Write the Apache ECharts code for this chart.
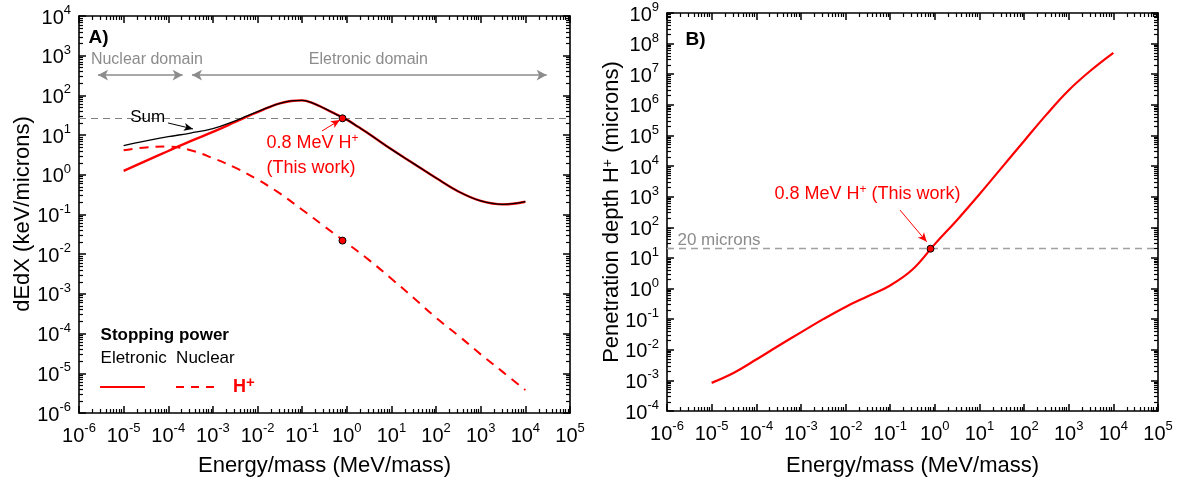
<!DOCTYPE html>
<html>
<head>
<meta charset="utf-8">
<script src="https://cdn.jsdelivr.net/npm/echarts@6/dist/echarts.min.js"></script>
<style>
  html, body { margin: 0; background: #fff; }
  #chart { width: 1181px; height: 489px; }
</style>
</head>
<body>
<div id="chart"></div>
<script>
// ---- panel A: stopping power (keV/micron) vs energy/mass (MeV) ----
var energyA = [1e-5, 3.16e-5, 1e-4, 3.16e-4, 1e-3, 3.16e-3, 5.62e-3, 1e-2, 1.78e-2, 3.16e-2, 5.62e-2,
               0.1, 0.178, 0.316, 0.562, 1, 1.78, 3.16, 10, 31.6, 100, 316, 1000, 3160, 10000];
var electronic = [1.26, 2.24, 3.98, 7.08, 12.0, 21.4, 28.8, 38.0, 50.1, 63.1, 72.4,
                  75, 63.1, 46.8, 33.9, 24.5, 16.2, 10.7, 4.37, 1.91, 0.83, 0.38, 0.22, 0.18, 0.21];
var sumStop =    [5.43, 7.14, 9.11, 11.25, 14.6, 22.9, 29.9, 38.8, 50.6, 63.4, 72.6,
                  75.1, 63.2, 46.9, 33.9, 24.5, 16.2, 10.7, 4.37, 1.91, 0.83, 0.38, 0.22, 0.18, 0.21];
var energyN = [1e-5, 3.16e-5, 1e-4, 3.16e-4, 1e-3, 3.16e-3, 1e-2, 3.16e-2, 0.1, 0.316,
               1, 3.16, 10, 31.6, 100, 316, 1000, 3160, 10000];
var nuclear = [4.17, 4.90, 5.13, 4.17, 2.63, 1.51, 0.76, 0.339, 0.132, 0.050,
               0.019, 7.1e-3, 2.4e-3, 7.9e-4, 2.5e-4, 8.9e-5, 3.0e-5, 1.07e-5, 3.8e-6];

// ---- panel B: penetration depth (microns) ----
var energyB = [1e-5, 3.16e-5, 1e-4, 3.16e-4, 1e-3, 3.16e-3, 1e-2, 3.16e-2, 0.1, 0.316,
               1, 3.16, 10, 31.6, 100, 316, 1000, 3160, 10000];
var depth = [8.3e-4, 1.78e-3, 4.8e-3, 0.0135, 0.037, 0.100, 0.251, 0.562, 1.26, 4.17,
             28.2, 174, 1200, 8900, 6.6e4, 4.8e5, 3.0e6, 1.35e7, 5.0e7];

// this work: 0.8 MeV H+
var thisE = 0.8;
var thisElec = 26.5;
var thisNuc = 0.022;
var thisDepth = 20;

var FONT = '"Liberation Sans", Arial, Helvetica, sans-serif';
var RED = '#ff0000';
var GRAY = '#8c8c8c';

function pairs(xs, ys) { return xs.map(function (x, i) { return [x, ys[i]]; }); }

function expLabel(v) {
  var e = Math.round(Math.log10(v));
  return '{b|10}{s|' + e + '}';
}
var tickRich = {
  b: { fontFamily: FONT, fontSize: 20, color: '#000', lineHeight: 24, verticalAlign: 'bottom' },
  s: { fontFamily: FONT, fontSize: 13, color: '#000', lineHeight: 14, verticalAlign: 'top' }
};

function ticks() {
  return { show: true, inside: true, length: 7, lineStyle: { color: '#000', width: 1.5 } };
}
function minors() {
  return { show: true, splitNumber: 9, length: 4, lineStyle: { color: '#000', width: 1.2 } };
}

// axes carry no name (titles are drawn as text below), top/right copies mirror the ticks
function xAxisOf(grid, pos, main) {
  return {
    type: 'log', logBase: 10, gridIndex: grid, position: pos,
    min: 1e-6, max: 1e5, interval: 1,
    axisLine: { show: true, onZero: false, lineStyle: { color: '#000', width: 1.6 } },
    axisTick: ticks(), minorTick: minors(),
    axisLabel: { show: main, margin: 9, formatter: expLabel, rich: tickRich },
    splitLine: { show: false }
  };
}
function yAxisOf(grid, pos, main, lo, hi) {
  return {
    type: 'log', logBase: 10, gridIndex: grid, position: pos,
    min: lo, max: hi, interval: 1,
    axisLine: { show: true, onZero: false, lineStyle: { color: '#000', width: 1.6 } },
    axisTick: ticks(), minorTick: minors(),
    axisLabel: { show: main, margin: 8, formatter: expLabel, rich: tickRich },
    splitLine: { show: false }
  };
}

function note(coord, text, style, pos) {
  var lab = { show: true, position: pos || 'right', distance: 0, fontFamily: FONT,
              formatter: function () { return text; } };
  for (var k in style) lab[k] = style[k];
  return { coord: coord, symbol: 'circle', symbolSize: 1,
           itemStyle: { color: 'rgba(0,0,0,0)' }, label: lab };
}
function seg(from, to, color, width, s0, s1, size, type) {
  return [
    { coord: from, symbol: s0, symbolSize: size,
      lineStyle: { color: color, width: width, type: type || 'solid' } },
    { coord: to, symbol: s1, symbolSize: size }
  ];
}
var supRed = { s: { fontFamily: FONT, fontSize: 12, color: RED, verticalAlign: 'top', lineHeight: 12 } };
var supBlack = { s: { fontFamily: FONT, fontSize: 14, color: '#000', verticalAlign: 'top', lineHeight: 14 } };

var chart = echarts.init(document.getElementById('chart'));

var option = {
  animation: false,
  grid: [
    { left: 79, top: 16, width: 491, height: 397 },
    { left: 667, top: 13, width: 491, height: 398 }
  ],
  xAxis: [
    xAxisOf(0, 'bottom', true), xAxisOf(0, 'top', false),
    xAxisOf(1, 'bottom', true), xAxisOf(1, 'top', false)
  ],
  yAxis: [
    yAxisOf(0, 'left', true, 1e-6, 1e4),
    yAxisOf(0, 'right', false, 1e-6, 1e4),
    yAxisOf(1, 'left', true, 1e-4, 1e9),
    yAxisOf(1, 'right', false, 1e-4, 1e9)
  ],
  graphic: [
    { type: 'text', x: 324.5, y: 466, silent: true,
      style: { text: 'Energy/mass (MeV/mass)', font: '22px ' + FONT, fill: '#000', align: 'center', verticalAlign: 'middle' } },
    { type: 'text', x: 912.5, y: 466, silent: true,
      style: { text: 'Energy/mass (MeV/mass)', font: '22px ' + FONT, fill: '#000', align: 'center', verticalAlign: 'middle' } },
    { type: 'text', x: 23, y: 214, rotation: Math.PI / 2, silent: true,
      style: { text: 'dEdX (keV/microns)', font: '22px ' + FONT, fill: '#000', align: 'center', verticalAlign: 'middle' } },
    { type: 'text', x: 612, y: 212, rotation: Math.PI / 2, silent: true,
      style: { text: 'Penetration depth H{s|+} (microns)', font: '22px ' + FONT, fill: '#000',
               align: 'center', verticalAlign: 'middle', rich: supBlack } }
  ],
  series: [
    { name: 'Eletronic', type: 'line', xAxisIndex: 0, yAxisIndex: 0, smooth: 0.4, showSymbol: false,
      data: pairs(energyA, electronic), lineStyle: { color: RED, width: 2.4 }, z: 3 },
    { name: 'Nuclear', type: 'line', xAxisIndex: 0, yAxisIndex: 0, smooth: 0.4, showSymbol: false,
      data: pairs(energyN, nuclear), lineStyle: { color: RED, width: 2, type: [9, 7] }, z: 3 },
    { name: 'Sum', type: 'line', xAxisIndex: 0, yAxisIndex: 0, smooth: 0.4, showSymbol: false,
      data: pairs(energyA, sumStop), lineStyle: { color: '#000', width: 1.3 }, z: 4 },
    { name: 'This work A', type: 'scatter', xAxisIndex: 0, yAxisIndex: 0, z: 6,
      data: [[thisE, thisElec], [thisE, thisNuc]], symbolSize: 7,
      itemStyle: { color: RED, borderColor: '#000', borderWidth: 1, opacity: 1 },
      markLine: { silent: true, symbol: 'none', label: { show: false }, z: 2,
        lineStyle: { color: '#808080', width: 1, type: [7, 5] },
        data: [{ yAxis: thisElec }] } },
    { name: 'notes A', type: 'scatter', xAxisIndex: 0, yAxisIndex: 0, data: [], z: 7,
      markPoint: { silent: true, data: [
        note([1.6e-6, 2800], 'A)', { color: '#000', fontSize: 19, fontWeight: 'bold' }),
        note([1.8e-6, 780], 'Nuclear domain', { color: GRAY, fontSize: 16 }),
        note([3.05, 780], 'Eletronic domain', { color: GRAY, fontSize: 16 }, 'inside'),
        note([1.37e-5, 28.6], 'Sum', { color: '#000', fontSize: 17 }),
        note([0.0155, 6.3], '0.8 MeV H{s|+}', { color: RED, fontSize: 18, lineHeight: 20, rich: supRed }),
        note([0.0155, 1.48], '(This work)', { color: RED, fontSize: 18 }),
        note([2.96e-6, 9.2e-5], 'Stopping power', { color: '#000', fontSize: 17, fontWeight: 'bold' }),
        note([2.96e-6, 2.4e-5], 'Eletronic  Nuclear', { color: '#000', fontSize: 17 }),
        note([2.75e-3, 4.6e-6], 'H{s|+}', { color: RED, fontSize: 18, fontWeight: 'bold', lineHeight: 22,
          rich: { s: { fontFamily: FONT, fontSize: 15, fontWeight: 'bold', color: RED, verticalAlign: 'top', lineHeight: 14 } } })
      ] },
      markLine: { silent: true, label: { show: false }, z: 7, data: [
        seg([2.67e-6, 325], [2.1e-4, 325], GRAY, 1.5, 'arrow', 'arrow', [8, 10]),
        seg([3.4e-4, 325], [3.0e4, 325], GRAY, 1.5, 'arrow', 'arrow', [8, 10]),
        seg([9.9e-5, 20.2], [3.58e-4, 14.3], '#000', 1, 'none', 'arrow', [6, 9]),
        seg([0.278, 12.7], [0.70, 24], RED, 1, 'none', 'arrow', [6, 9]),
        seg([2.96e-6, 4.6e-6], [3.0e-5, 4.6e-6], RED, 2, 'none', 'none', 1),
        seg([1.49e-4, 4.6e-6], [1.49e-3, 4.6e-6], RED, 2, 'none', 'none', 1, [8, 7])
      ] } },

    { name: 'Depth', type: 'line', xAxisIndex: 2, yAxisIndex: 2, smooth: 0.4, showSymbol: false,
      data: pairs(energyB, depth), lineStyle: { color: RED, width: 2.2 }, z: 3 },
    { name: 'This work B', type: 'scatter', xAxisIndex: 2, yAxisIndex: 2, z: 6,
      data: [[thisE, thisDepth]], symbolSize: 7,
      itemStyle: { color: RED, borderColor: '#000', borderWidth: 1, opacity: 1 },
      markLine: { silent: true, symbol: 'none', label: { show: false }, z: 2,
        lineStyle: { color: '#a0a0a0', width: 1.3, type: [7, 5] },
        data: [{ yAxis: thisDepth }] } },
    { name: 'notes B', type: 'scatter', xAxisIndex: 2, yAxisIndex: 2, data: [], z: 7,
      markPoint: { silent: true, data: [
        note([2.53e-6, 1.31e8], 'B)', { color: '#000', fontSize: 19, fontWeight: 'bold' }),
        note([1.67e-6, 38], '20 microns', { color: GRAY, fontSize: 17 }),
        note([2.49e-4, 1217], '0.8 MeV H{s|+} (This work)', { color: RED, fontSize: 18, lineHeight: 20, rich: supRed })
      ] },
      markLine: { silent: true, label: { show: false }, z: 7, data: [
        seg([0.166, 365], [0.658, 33.6], RED, 1, 'none', 'arrow', [6, 9])
      ] } }
  ]
};
chart.setOption(option);
</script>
</body>
</html>
